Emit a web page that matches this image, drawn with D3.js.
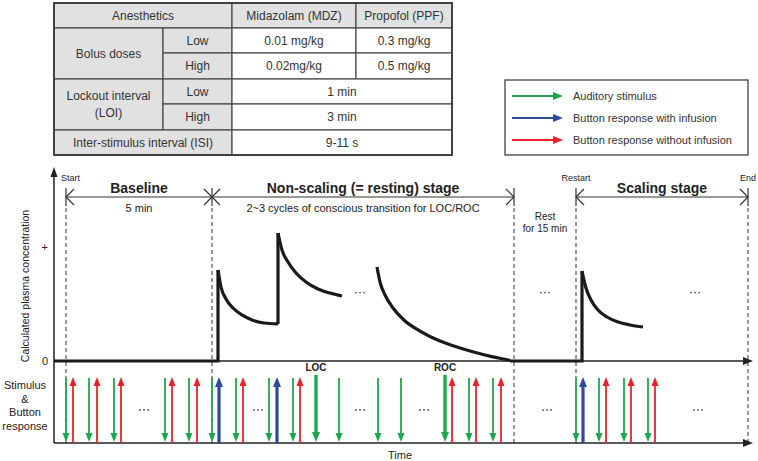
<!DOCTYPE html>
<html><head><meta charset="utf-8">
<script src="https://cdn.jsdelivr.net/npm/d3@7"></script>
<style>
body{margin:0;background:#fff;}
svg{display:block;font-family:"Liberation Sans",Arial,Helvetica,sans-serif;}
</style>
</head><body>
<svg id="c" width="758" height="461"></svg>
<script>
// ---------------- DATA ----------------
const tableHeader = ["Anesthetics", "Midazolam (MDZ)", "Propofol (PPF)"];
const bolusLabel = "Bolus doses";
const bolusLevels = ["Low", "High"];
const bolusMDZ = ["0.01 mg/kg", "0.02mg/kg"];
const bolusPPF = ["0.3 mg/kg", "0.5 mg/kg"];
const loiLabel = ["Lockout interval", "(LOI)"];
const loiLevels = ["Low", "High"];
const loiValues = ["1 min", "3 min"];
const isiLabel = "Inter-stimulus interval (ISI)";
const isiValue = "9-11 s";

const legendLabels = ["Auditory stimulus", "Button response with infusion", "Button response without infusion"];
const legendColors = ["#22a552", "#2b4c9e", "#e8232b"];

// time units (arbitrary)
const stageBounds = [12, 158, 460, 522, 694];
const stageSpans = [[12, 158], [158, 460], [522, 694]];
const stageNames = ["Baseline", "Non-scaling (= resting) stage", "Scaling stage"];
const stageSubs = ["5 min", "2~3 cycles of conscious transition for LOC/ROC", ""];
const markerLabels = [{t: 12, text: "Start"}, {t: 522, text: "Restart"}, {t: 694, text: "End"}];
const restLabel = ["Rest", "for 15 min"];

// calculated plasma concentration (time, relative level)
const concBaseline = [[0, 0], [164, 0], [164, 0.798]];
const concDecay1 = [[164, 0.798], [167, 0.649], [172, 0.544], [179, 0.465], [188, 0.404], [198, 0.360], [210, 0.333], [224, 0.325]];
const concJump1 = [[224, 0.325], [224, 1.123]];
const concDecay2 = [[224, 1.123], [228, 0.974], [234, 0.868], [242, 0.772], [252, 0.693], [264, 0.632], [276, 0.596], [288, 0.570]];
const concDecay3 = [[323, 0.825], [326, 0.693], [331, 0.579], [339, 0.465], [351, 0.351], [366, 0.263], [386, 0.175], [406, 0.114], [431, 0.053], [456, 0.005]];
const concRest = [[456, 0], [528, 0], [528, 0.789]];
const concDecay4 = [[528, 0.789], [532, 0.640], [537, 0.535], [544, 0.447], [553, 0.386], [564, 0.342], [576, 0.316], [589, 0.298]];
const yTickValues = [0, 1];
const yTickLabels = ["0", "+"];
const concEllipsis = [[306, 0.6], [491, 0.6], [641, 0.6]];

// stimulus & button responses (time)
const auditoryStim = [12, 35, 60, 111, 135, 158, 182, 215, 239, 285, 324, 347, 415, 439, 522, 545, 570, 594];
const transitionStim = [{t: 262, label: "LOC"}, {t: 391, label: "ROC"}];
const respWithInfusion = [165, 223, 529];
const respWithoutInfusion = [19, 43, 67, 118, 143, 189, 246, 398, 422, 447, 552, 577, 601];
const stimEllipsis = [90, 204, 306, 370, 493, 644];

// ---------------- DRAW ----------------
const svg = d3.select("#c");
svg.append("rect").attr("width", 758).attr("height", 461).attr("fill", "#fff");

const x = d3.scaleLinear().domain([0, 700]).range([54, 754]);
const y = d3.scaleLinear().domain([0, 1]).range([361, 247]);

const INK = "#222";
const GREEN = legendColors[0], BLUE = legendColors[1], RED = legendColors[2];

// ---- table ----
const colX = [54, 163, 232, 356, 452];
const rowY = [3, 28, 53, 79, 104, 130, 155];
const cells = [];
cells.push({c: [0, 2], r: [0, 1], t: [tableHeader[0]], g: true});
cells.push({c: [2, 3], r: [0, 1], t: [tableHeader[1]], g: true});
cells.push({c: [3, 4], r: [0, 1], t: [tableHeader[2]], g: true});
cells.push({c: [0, 1], r: [1, 3], t: [bolusLabel], g: true});
bolusLevels.forEach((lv, i) => {
  cells.push({c: [1, 2], r: [1 + i, 2 + i], t: [lv], g: true});
  cells.push({c: [2, 3], r: [1 + i, 2 + i], t: [bolusMDZ[i]], g: false});
  cells.push({c: [3, 4], r: [1 + i, 2 + i], t: [bolusPPF[i]], g: false});
});
cells.push({c: [0, 1], r: [3, 5], t: loiLabel, g: true});
loiLevels.forEach((lv, i) => {
  cells.push({c: [1, 2], r: [3 + i, 4 + i], t: [lv], g: true});
  cells.push({c: [2, 4], r: [3 + i, 4 + i], t: [loiValues[i]], g: false});
});
cells.push({c: [0, 2], r: [5, 6], t: [isiLabel], g: true});
cells.push({c: [2, 4], r: [5, 6], t: [isiValue], g: false});

const tg = svg.append("g");
cells.forEach(cl => {
  const x0 = colX[cl.c[0]], x1 = colX[cl.c[1]], y0 = rowY[cl.r[0]], y1 = rowY[cl.r[1]];
  tg.append("rect").attr("x", x0).attr("y", y0).attr("width", x1 - x0).attr("height", y1 - y0)
    .attr("fill", cl.g ? "#e1e1e1" : "#fff").attr("stroke", "#4a4a4a").attr("stroke-width", 1.2);
  const cx = (x0 + x1) / 2, cy = (y0 + y1) / 2;
  const n = cl.t.length;
  cl.t.forEach((s, k) => {
    tg.append("text").attr("x", cx).attr("y", cy + (k - (n - 1) / 2) * 17).attr("dy", "0.36em")
      .attr("text-anchor", "middle").attr("font-size", 12).attr("fill", "#333").text(s);
  });
});
tg.append("rect").attr("x", colX[0]).attr("y", rowY[0]).attr("width", colX[4] - colX[0]).attr("height", rowY[6] - rowY[0])
  .attr("fill", "none").attr("stroke", "#3a3a3a").attr("stroke-width", 1.8);

// ---- legend ----
const lg = svg.append("g");
lg.append("rect").attr("x", 505).attr("y", 80).attr("width", 243).attr("height", 75)
  .attr("fill", "#fff").attr("stroke", "#333").attr("stroke-width", 1.2);
legendLabels.forEach((lab, i) => {
  const yy = 96 + i * 22;
  lg.append("line").attr("x1", 512).attr("x2", 556).attr("y1", yy).attr("y2", yy)
    .attr("stroke", legendColors[i]).attr("stroke-width", 2);
  lg.append("path").attr("d", `M563,${yy} L553,${yy - 4} L553,${yy + 4} Z`).attr("fill", legendColors[i]);
  lg.append("text").attr("x", 573).attr("y", yy).attr("dy", "0.35em").attr("font-size", 11)
    .attr("fill", "#333").text(lab);
});

// ---- stage annotation line ----
const sg = svg.append("g").attr("stroke", "#333").attr("fill", "none");
const SY = 197;
stageSpans.forEach(sp => {
  sg.append("line").attr("x1", x(sp[0])).attr("x2", x(sp[1])).attr("y1", SY).attr("y2", SY).attr("stroke-width", 1.2);
});
stageBounds.forEach(t => {
  const px = x(t);
  sg.append("line").attr("x1", px).attr("x2", px).attr("y1", 188).attr("y2", 206).attr("stroke-width", 1.2);
  sg.append("line").attr("x1", px).attr("x2", px).attr("y1", 208).attr("y2", 443)
    .attr("stroke-width", 1).attr("stroke-dasharray", "4,3");
});
stageSpans.forEach(sp => {
  const a = x(sp[0]), b = x(sp[1]);
  sg.append("path").attr("d", `M${a + 8},${SY - 8} L${a},${SY} L${a + 8},${SY + 8}`).attr("stroke-width", 1.2);
  sg.append("path").attr("d", `M${b - 8},${SY - 8} L${b},${SY} L${b - 8},${SY + 8}`).attr("stroke-width", 1.2);
});

const txt = svg.append("g").attr("fill", "#222");
stageSpans.forEach((sp, i) => {
  const cx = (x(sp[0]) + x(sp[1])) / 2;
  txt.append("text").attr("x", cx).attr("y", 193).attr("text-anchor", "middle")
    .attr("font-size", 14).attr("font-weight", "bold").text(stageNames[i]);
  if (stageSubs[i]) txt.append("text").attr("x", cx).attr("y", 212).attr("text-anchor", "middle")
    .attr("font-size", 11).text(stageSubs[i]);
});
markerLabels.forEach(m => {
  const left = m.text === "Start";
  txt.append("text").attr("x", left ? x(m.t) - 5 : x(m.t)).attr("y", 181)
    .attr("text-anchor", left ? "start" : "middle").attr("font-size", 9).text(m.text);
});
const restCx = (x(stageBounds[2]) + x(stageBounds[3])) / 2;
restLabel.forEach((s, k) => {
  txt.append("text").attr("x", restCx).attr("y", 220 + k * 12).attr("text-anchor", "middle")
    .attr("font-size", 10).text(s);
});

// ---- axes ----
const ax = svg.append("g").attr("stroke", INK).attr("fill", INK);
ax.append("line").attr("x1", 54).attr("x2", 54).attr("y1", 443).attr("y2", 174).attr("stroke-width", 1.5);
ax.append("path").attr("d", "M54,167 L50.5,177 L57.5,177 Z").attr("stroke", "none");
ax.append("line").attr("x1", 54).attr("x2", 746).attr("y1", 361).attr("y2", 361).attr("stroke-width", 1.5);
ax.append("path").attr("d", "M753,361 L743,357 L743,365 Z").attr("stroke", "none");
ax.append("line").attr("x1", 54).attr("x2", 746).attr("y1", 443).attr("y2", 443).attr("stroke-width", 1.5);
ax.append("path").attr("d", "M753,443 L743,439 L743,447 Z").attr("stroke", "none");

const yAxis = d3.axisLeft(y).tickValues(yTickValues).tickFormat((d, i) => yTickLabels[i]).tickSize(0).tickPadding(6);
const yg = svg.append("g").attr("transform", "translate(54,0)").call(yAxis);
yg.select(".domain").remove();
yg.selectAll("text").attr("font-size", 11).attr("fill", "#222").attr("font-family", "Liberation Sans, Arial, sans-serif");

svg.append("text").attr("transform", "translate(29,286) rotate(-90)").attr("text-anchor", "middle")
  .attr("font-size", 10.5).attr("fill", "#222").text("Calculated plasma concentration");
["Stimulus", "&", "Button", "response"].forEach((s, k) => {
  svg.append("text").attr("x", 25).attr("y", 389 + k * 13.5).attr("text-anchor", "middle")
    .attr("font-size", 11).attr("fill", "#222").text(s);
});
svg.append("text").attr("x", 400).attr("y", 459).attr("text-anchor", "middle").attr("font-size", 11)
  .attr("fill", "#222").text("Time");

// ---- concentration curve ----
const lineLin = d3.line().x(d => x(d[0])).y(d => y(d[1]));
const lineSmooth = d3.line().x(d => x(d[0])).y(d => y(d[1])).curve(d3.curveMonotoneX);
const cg = svg.append("g").attr("fill", "none").attr("stroke", "#1a1a1a").attr("stroke-width", 3.2);
[concBaseline, concJump1, concRest].forEach(s => cg.append("path").attr("d", lineLin(s)));
[concDecay1, concDecay2, concDecay3, concDecay4].forEach(s => cg.append("path").attr("d", lineSmooth(s)));

function dots(cx, cy) {
  [-4, 0, 4].forEach(o => svg.append("circle").attr("cx", cx + o).attr("cy", cy).attr("r", 0.9).attr("fill", "#555"));
}
concEllipsis.forEach(p => dots(x(p[0]), y(p[1])));

// ---- stimulus arrows ----
const ag = svg.append("g");
function vArrow(px, y1, y2, color, w, hw, hh) {
  const s = y2 > y1 ? 1 : -1;
  ag.append("line").attr("x1", px).attr("x2", px).attr("y1", y1).attr("y2", y2 - s * hh * 0.7)
    .attr("stroke", color).attr("stroke-width", w);
  ag.append("path").attr("d", `M${px},${y2} L${px - hw},${y2 - s * hh} L${px + hw},${y2 - s * hh} Z`).attr("fill", color);
}
auditoryStim.forEach(t => vArrow(x(t), 378, 442, GREEN, 1.8, 3.5, 9));
transitionStim.forEach(d => {
  vArrow(x(d.t), 375, 442, GREEN, 3.4, 4, 10);
  svg.append("text").attr("x", x(d.t)).attr("y", 371).attr("text-anchor", "middle").attr("font-size", 10)
    .attr("font-weight", "bold").attr("fill", "#222").text(d.label);
});
respWithoutInfusion.forEach(t => vArrow(x(t), 443, 377, RED, 1.8, 3.5, 9));
respWithInfusion.forEach(t => vArrow(x(t), 443, 377, BLUE, 3.2, 4, 10));
stimEllipsis.forEach(t => dots(x(t), 410));
</script>
</body></html>
